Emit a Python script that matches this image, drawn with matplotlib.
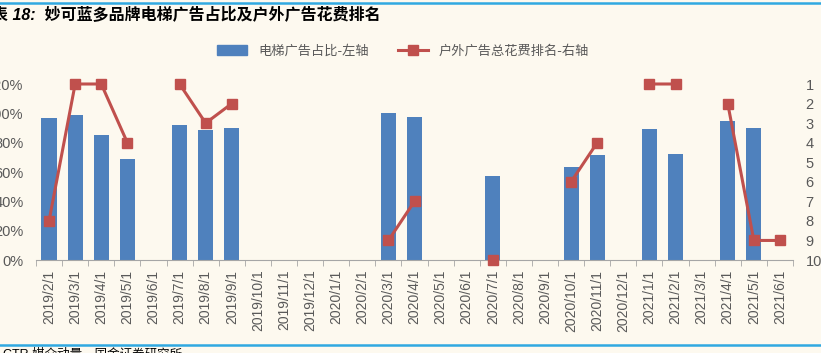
import numpy as np
import matplotlib.pyplot as plt
from matplotlib.lines import Line2D
from matplotlib.patches import Patch

plt.rcParams['font.family'] = ['Liberation Sans', 'Noto Sans CJK SC', 'DejaVu Sans']

months = ['2019/2/1', '2019/3/1', '2019/4/1', '2019/5/1', '2019/6/1', '2019/7/1',
          '2019/8/1', '2019/9/1', '2019/10/1', '2019/11/1', '2019/12/1', '2020/1/1',
          '2020/2/1', '2020/3/1', '2020/4/1', '2020/5/1', '2020/6/1', '2020/7/1',
          '2020/8/1', '2020/9/1', '2020/10/1', '2020/11/1', '2020/12/1', '2021/1/1',
          '2021/2/1', '2021/3/1', '2021/4/1', '2021/5/1', '2021/6/1']
nan = np.nan
# 电梯广告占比 (左轴)
elevator_share = [0.97, 0.99, 0.85, 0.69, nan, 0.92, 0.885, 0.90, nan, nan, nan, nan,
                  nan, 1.00, 0.975, nan, nan, 0.57, nan, nan, 0.635, 0.715, nan, 0.89,
                  0.725, nan, 0.95, 0.90, nan]
# 户外广告总花费排名 (右轴)
outdoor_rank = [8, 1, 1, 4, nan, 1, 3, 2, nan, nan, nan, nan,
                nan, 9, 7, nan, nan, 10, nan, nan, 6, 4, nan, 1,
                1, nan, 2, 9, 9]

blue = '#4F81BD'
red = '#C0504D'
bg = '#FDF9EF'
gray = '#595959'

fig = plt.figure(figsize=(8.21, 3.53), dpi=100, facecolor=bg)
ax = fig.add_axes([36 / 821, 1 - 260 / 353, (793 - 36) / 821, (260 - 84) / 353])
ax.set_facecolor(bg)

x = np.arange(len(months))
ax.bar(x, np.nan_to_num(elevator_share), width=0.58, color=blue, zorder=2)
ax.set_xlim(-0.5, len(months) - 0.5)
ax.set_ylim(0, 1.2)
ax.set_yticks(np.arange(0, 1.21, 0.2))
ax.set_yticklabels(['%d%%' % round(v * 100) for v in np.arange(0, 1.21, 0.2)])
ax.set_xticks(x)
ax.set_xticklabels(months, rotation=90, fontsize=10, color=gray)
ax.set_xticks(np.arange(-0.5, len(months), 1), minor=True)
ax.tick_params(axis='x', which='major', length=0, pad=7)
ax.tick_params(axis='x', which='minor', length=4, color='#A6A6A6', direction='out')
ax.tick_params(axis='y', length=0, labelsize=10.5, labelcolor=gray, pad=9)
for s in ['top', 'right', 'left']:
    ax.spines[s].set_visible(False)
ax.spines['bottom'].set_color('#A6A6A6')

ax2 = ax.twinx()
ax2.plot(x, outdoor_rank, color=red, lw=2.2, marker='s', ms=7, clip_on=False, zorder=3)
ax2.set_ylim(10, 1)
ax2.set_yticks(range(1, 11))
ax2.tick_params(axis='y', length=0, labelsize=10.5, labelcolor=gray, pad=9)
for s in ['top', 'right', 'left', 'bottom']:
    ax2.spines[s].set_visible(False)

handles = [Patch(color=blue), Line2D([], [], color=red, lw=2.2, marker='s', ms=7)]
leg = fig.legend(handles, ['电梯广告占比-左轴', '户外广告总花费排名-右轴'],
                 loc='center', bbox_to_anchor=(403 / 821, 1 - 51 / 353), ncol=2,
                 frameon=False, handlelength=2.3, columnspacing=2.2,
                 prop={'family': ['Noto Sans CJK SC', 'DejaVu Sans'], 'size': 9.5})
for t in leg.get_texts():
    t.set_color(gray)

# blue rules and texts
fig.add_artist(Line2D([0, 1], [1 - 2.5 / 353] * 2, color='#30A9E1', lw=1.8))
fig.add_artist(Line2D([0, 1], [1 - 345 / 353] * 2, color='#30A9E1', lw=1.8))
fig.text(-24 / 821, 1 - 15 / 353, '图表 18:  妙可蓝多品牌电梯广告占比及户外广告花费排名',
         fontsize=11.5, fontweight='bold', fontstyle='italic', va='center', ha='left',
         family=['Liberation Sans', 'Noto Sans CJK SC'])
fig.text(3 / 821, 1 - 348 / 353, 'CTR 媒介动量，国金证券研究所', fontsize=9,
         va='top', ha='left', family=['Liberation Sans', 'Noto Sans CJK SC'])

fig.savefig('out.png', dpi=100, facecolor=bg)
